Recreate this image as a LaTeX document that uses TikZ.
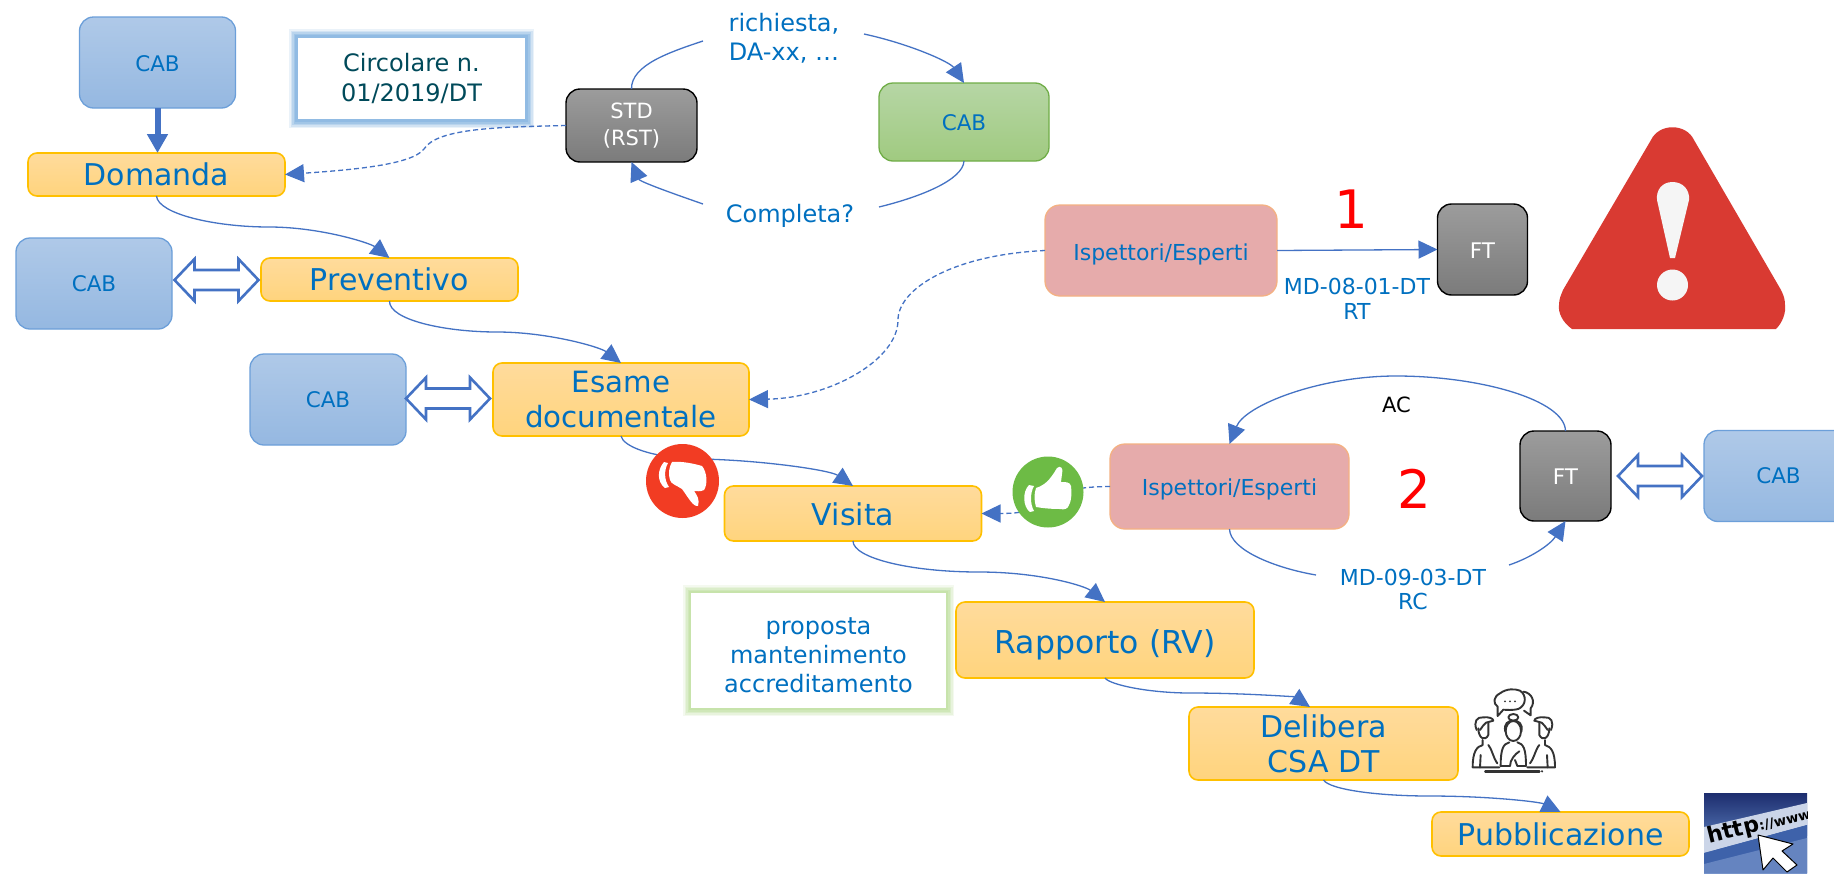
\documentclass[tikz,border=0pt]{standalone}
\usepackage{fontspec}
\setmainfont{DejaVu Sans}
\usetikzlibrary{arrows.meta,calc}
\definecolor{cblue}{HTML}{4472C4}
\definecolor{ctext}{HTML}{0070C0}
\definecolor{cteal}{HTML}{004A5A}
\newcommand{\fsz}[1]{\fontsize{#1}{#1}\selectfont}
\newcommand{\bl}[2]{\raisebox{-#1pt}[0pt][0pt]{#2}}
\tikzset{
  box/.style={rounded corners=12pt,line width=1.3pt,align=center,inner sep=0pt,outer sep=0pt,text=ctext},
  cabbox/.style={box,rounded corners=14pt,draw=cabline,top color=cabtop,bottom color=cabbot,font=\fsz{21.5},minimum width=156pt,minimum height=91pt},
  stepbox/.style={box,rounded corners=9pt,line width=1.6pt,draw=ora,top color=oratop,bottom color=orabot,font=\fsz{30}},
  greybox/.style={box,rounded corners=14pt,draw=black,line width=1.4pt,top color=gtop,bottom color=gbot,text=white,font=\fsz{21.5}},
  pinkbox/.style={box,rounded corners=15pt,draw=pinkline,fill=pinkfill,font=\fsz{22}},
  plain/.style={align=center,inner sep=0pt,outer sep=0pt,text=ctext,font=\fsz{22}},
  conn/.style={draw=cblue,line width=1.3pt,-{Triangle[length=19pt,width=18pt]}},
  link/.style={draw=cblue,line width=1.3pt},
  dashconn/.style={conn,dash pattern=on 5pt off 3pt},
  bigconn/.style={draw=cblue,line width=6pt,-{Triangle[length=19pt,width=20pt]}},
  dbl/.pic={\draw[draw=cblue,line width=2.6pt,fill=white,line join=miter]
     (-42,0)--(-22,-21)--(-22,-10)--(22,-10)--(22,-21)--(42,0)--(22,21)--(22,10)--(-22,10)--(-22,21)--cycle;},
}
\definecolor{cabtop}{HTML}{AFC9E8}
\definecolor{cabbot}{HTML}{95B8E1}
\definecolor{cabline}{HTML}{6C9FD9}
\definecolor{oratop}{HTML}{FFDB9C}
\definecolor{orabot}{HTML}{FFD47D}
\definecolor{ora}{HTML}{FFC000}
\definecolor{gtop}{HTML}{9C9C9C}
\definecolor{gbot}{HTML}{7B7B7B}
\definecolor{pinkfill}{HTML}{E6ABAB}
\definecolor{pinkline}{HTML}{F4B183}
\definecolor{greentop}{HTML}{B6D6A5}
\definecolor{greenbot}{HTML}{A0CA80}
\definecolor{greenline}{HTML}{70AD47}
\definecolor{glowb}{HTML}{8DB9E2}
\definecolor{glowg}{HTML}{C5E3A8}
\definecolor{warn}{HTML}{D93A32}
\definecolor{tdown}{HTML}{F23C23}
\definecolor{tup}{HTML}{6DBB45}
\definecolor{navy}{HTML}{1D2D6E}
\definecolor{midb}{HTML}{4F6FAE}
\definecolor{lowb}{HTML}{3E62AA}
\definecolor{bandw}{HTML}{CBD5E8}
\definecolor{bandl}{HTML}{7F9BCF}
\begin{document}
\begin{tikzpicture}[x=1pt,y=-1pt]
\useasboundingbox (0,0) rectangle (1834,873);
\clip (0,0) rectangle (1834,873);
\fill[white] (0,0) rectangle (1834,873);
\coordinate (r1) at (703,41);
\coordinate (r2) at (864,34);
\coordinate (c1) at (879,207);
\coordinate (c2) at (703,204);
\coordinate (m1) at (269,227);
\coordinate (m2) at (497,332);
\coordinate (m3) at (700,459);
\coordinate (m4) at (979,572);
\coordinate (m5) at (1190,693);
\coordinate (m6) at (1429,796);
\coordinate (d1) at (424,149);
\coordinate (d2) at (898,320);
\coordinate (a1) at (1396,376);
\coordinate (k1) at (1316,575);
\coordinate (k2) at (1509,565);

% nodes
\node[cabbox] (cab1) at (157.5,62.5) {\bl{8.5}{CAB}};
\foreach \w/\o in {18/.18,15/.25,12/.35,9/.5,6/.8}
  \draw[glowb,line width=\w pt,opacity=\o] (298,38) rectangle (525,119);
\node[plain,fill=white,minimum width=227pt,minimum height=81pt,text=cteal,font=\fsz{24}] (circ) at (411.5,78.5) {Circolare n.\\[6pt]01/2019/DT};
\node[greybox,minimum width=131pt,minimum height=73pt,font=\fsz{21}] (std) at (631.5,125.5) {STD\\[6pt](RST)};
\node[stepbox,minimum width=257pt,minimum height=43pt] (dom) at (156.5,174.5) {\bl{11}{Domanda}};
\node[stepbox,minimum width=257pt,minimum height=43pt] (prev) at (389.5,279.5) {\bl{11}{Preventivo}};
\node[cabbox] (cab2) at (94,283.5) {\bl{8.2}{CAB}};
\node[stepbox,minimum width=256pt,minimum height=73pt,font=\fsz{29.3}] (esame) at (621,399.5) {Esame\\[5pt]documentale};
\node[cabbox] (cab3) at (328,399.5) {\bl{7.8}{CAB}};
\node[box,rounded corners=14pt,draw=greenline,top color=greentop,bottom color=greenbot,font=\fsz{21.5},minimum width=170pt,minimum height=78pt] (green) at (964,122) {\bl{8.7}{CAB}};
\node[pinkbox,minimum width=232pt,minimum height=91pt] (isp1) at (1161,250.5) {\bl{9.5}{Ispettori/Esperti}};
\node[greybox,minimum width=90pt,minimum height=91pt] (ft1) at (1482.5,249.5) {\bl{8.5}{FT}};
\node[stepbox,minimum width=257pt,minimum height=55pt] (vis) at (853,513.5) {\bl{11.5}{Visita}};
\node[pinkbox,minimum width=239pt,minimum height=85pt] (isp2) at (1229.5,486.5) {\bl{8.5}{Ispettori/Esperti}};
\node[greybox,minimum width=91pt,minimum height=90pt] (ft2) at (1565.5,476) {\bl{8}{FT}};
\node[cabbox] (cab4) at (1782,476) {\hspace*{-7pt}\bl{7.5}{CAB}};
\foreach \w/\o in {16/.18,13/.25,10/.35,7/.5,4/.8}
  \draw[glowg,line width=\w pt,opacity=\o] (691,593) rectangle (946,708);
\node[plain,fill=white,minimum width=255pt,minimum height=115pt,font=\fsz{24}] (prop) at (818.5,650.5) {\rule{0pt}{26pt}proposta\\[5pt]mantenimento\\[5pt]accreditamento};
\node[stepbox,minimum width=298pt,minimum height=76pt,font=\fsz{31.5}] (rap) at (1105,640) {\bl{13}{Rapporto (RV)}};
\node[stepbox,minimum width=269pt,minimum height=73pt] (del) at (1323.5,743.5) {Delibera\\[5pt]CSA DT};
\node[stepbox,minimum width=257pt,minimum height=44pt] (pub) at (1560.5,834) {\bl{11}{Pubblicazione}};

% free texts
\node[plain,font=\fsz{24}] (rich) at (784,38) {richiesta,\\[5pt]DA-xx, \dots};
\node[plain,font=\fsz{24}] (comp) at (790,216) {Completa?};
\node[plain] (md1) at (1357,299) {MD-08-01-DT\\[3pt]RT};
\node[plain] (md2) at (1413,589) {MD-09-03-DT\\[2pt]RC};
\node[plain,text=black,font=\fsz{21}] (ac) at (1396.5,405) {AC};
\node[plain,text=red,font=\fsz{53}] (n1) at (1351,209) {1};
\node[plain,text=red,font=\fsz{53}] (n2) at (1414,489) {2};

% connectors
\draw[link] (std.north) .. controls (631,65) and (670,52) .. (r1);
\draw[conn] (r2) .. controls (910,44) and (950,62) .. (green.north);
\draw[link] (green.south) .. controls (963,180) and (920,197) .. (c1);
\draw[conn] (c2) .. controls (680,196) and (640,182) .. (std.south);
\draw[dashconn] (std.west) .. controls (500,127) and (437,128) .. (d1) .. controls (412,165) and (350,170) .. (dom.east);
\draw[bigconn] (cab1.south) -- (cab1.south |- dom.north);
\draw[conn] (dom.south) .. controls (158,214) and (215,227) .. (m1) .. controls (320,227) and (370,243) .. (prev.north);
\draw[conn] (prev.south) .. controls (389,320) and (445,332) .. (m2) .. controls (548,332) and (600,347) .. (esame.north);
\draw[dashconn] (isp1.west) .. controls (950,255) and (898,290) .. (d2) .. controls (898,360) and (830,398) .. (esame.east);
\draw[conn] (isp1.east) -- (ft1.west);
\draw[conn] (esame.south) .. controls (623,446) and (650,458) .. (m3) .. controls (760,460) and (830,470) .. (vis.north);
\draw[dashconn] (isp2.west) .. controls (1030,487) and (1062,513.5) .. (vis.east);
\draw[conn] (vis.south) .. controls (853,558) and (910,572) .. (m4) .. controls (1040,572) and (1085,586) .. (rap.north);
\draw[conn] (rap.south) .. controls (1110,685) and (1150,693) .. (m5) .. controls (1245,693) and (1295,697) .. ($(del.north)+(-13.5,0)$);
\draw[conn] (del.south) .. controls (1330,790) and (1380,796) .. (m6) .. controls (1490,796) and (1540,802) .. (pub.north);
\draw[conn] (ft2.north) .. controls (1565,400) and (1480,376) .. (a1) .. controls (1320,376) and (1245,405) .. (isp2.north);
\draw[link] (isp2.south) .. controls (1230,550) and (1275,568) .. (k1);
\draw[conn] (k2) .. controls (1530,558) and (1550,545) .. (ft2.south);

% block double arrows
\pic at (216.5,280) {dbl};
\pic at (448,398.5) {dbl};
\pic at (1660,476) {dbl};

% warning sign
\fill[warn] (1572,329) .. controls (1562,322) and (1558,312) .. (1559,305) .. controls (1559,299) and (1561,295) .. (1563,290)
  -- (1651,140) .. controls (1659,123) and (1686,123) .. (1694,140)
  -- (1781,290) .. controls (1784,296) and (1785,300) .. (1785,305) .. controls (1786,312) and (1783,322) .. (1776,329) -- cycle;
\fill[white!96!black] (1672.5,182) .. controls (1683,182) and (1690,190) .. (1689,200) -- (1675,258) -- (1670,258) -- (1657,200) .. controls (1656,190) and (1662,182) .. (1672.5,182) -- cycle;
\fill[white!96!black] (1672.5,285) ellipse (15.5pt and 15.5pt);

% thumb down
\fill[tdown] (682.5,481) ellipse (36.5pt and 37pt);
\fill[white] (664,462) .. controls (657,470) and (657,482) .. (665,488) -- (669,487) .. controls (664,480) and (664,470) .. (668,463) -- cycle;
\fill[white] (672,462) .. controls (683,461) and (695,464) .. (702,466) .. controls (707,472) and (708,484) .. (704,490)
  .. controls (700,492) and (696,491) .. (694,491) .. controls (697,495) and (700,500) .. (698,506) .. controls (693,507) and (688,497) .. (682,489)
  .. controls (676,485) and (671,484) .. (670,480) .. controls (668,474) and (669,467) .. (672,462) -- cycle;
% thumb up
\fill[tup] (1048,492) ellipse (35.5pt and 35.5pt);
\fill[white] (1029,485) .. controls (1022,492) and (1023,507) .. (1030,512) -- (1034,511) .. controls (1030,504) and (1030,493) .. (1034,486) -- cycle;
\fill[white] (1036,488) .. controls (1045,485) and (1050,480) .. (1057,468) .. controls (1060,465) and (1064,468) .. (1062,474)
  -- (1061,482) .. controls (1066,482) and (1070,482) .. (1071,486) .. controls (1072,495) and (1071,502) .. (1069,505)
  .. controls (1068,509) and (1064,510) .. (1060,509) .. controls (1050,509) and (1042,508) .. (1036,507) .. controls (1034,500) and (1034,494) .. (1036,488) -- cycle;

% people icon
\begin{scope}[shift={(1460,680)},x=.3333pt,y=-.3333pt,draw=black!80,line width=1.9pt,line join=round,line cap=round]
 \draw (120,40) .. controls (140,25) and (165,26) .. (180,32) .. controls (200,45) and (200,75) .. (175,87) .. controls (160,91) and (140,90) .. (130,89) -- (113,108) -- (113,80) .. controls (98,70) and (100,50) .. (120,40) -- cycle;
 \draw (190,35) .. controls (215,38) and (228,65) .. (212,85) -- (212,106) -- (192,92);
 \fill[black!80] (135,64) circle (3.2) (150,64) circle (3.2) (165,64) circle (3.2);
 % woman
 \draw (160,153) ellipse (23 and 30);
 \draw (136,155) .. controls (130,130) and (145,122) .. (160,122) .. controls (175,122) and (190,130) .. (184,155);
 \draw (160,112) ellipse (15 and 10);
 \draw (148,187) .. controls (130,192) and (122,205) .. (122,258);
 \draw (172,187) .. controls (190,192) and (198,205) .. (198,258);
 \draw (122,258) -- (150,258) .. controls (150,240) and (165,222) .. (178,214);
 \draw (198,258) -- (172,258) -- (165,240);
 % left man
 \draw (55,145) .. controls (55,175) and (75,185) .. (85,165) -- (85,128);
 \draw (50,150) .. controls (40,125) and (50,110) .. (70,112) .. controls (85,110) and (100,115) .. (100,122) -- (78,128) .. controls (72,135) and (65,140) .. (60,150);
 \draw (68,180) -- (68,195) .. controls (50,200) and (38,215) .. (38,262) -- (118,262);
 \draw (60,262) -- (62,225);
 \draw (85,195) .. controls (95,205) and (100,235) .. (112,250);
 % right man
 \draw (268,145) .. controls (268,175) and (248,185) .. (238,165) -- (238,128);
 \draw (273,150) .. controls (283,125) and (273,110) .. (253,112) .. controls (238,110) and (223,115) .. (223,122) -- (245,128) .. controls (251,135) and (258,140) .. (263,150);
 \draw (255,180) -- (255,195) .. controls (273,200) and (285,215) .. (285,262) -- (202,262);
 \draw (263,262) -- (261,225);
 \draw (238,195) .. controls (228,205) and (222,235) .. (210,250);
 \draw[line width=2.6pt] (76,274) -- (238,274);
 \fill[black!80] (246,274) circle (3.5);
\end{scope}

% browser picture
\begin{scope}
 \clip (1704,793) rectangle (1807,873);
 \shade[top color=lowb,bottom color=bandl] (1704,820) rectangle (1807,873);
 \shade[top color=navy,bottom color=midb] (1704,793) rectangle (1807,835);
 \fill[bandw] (1704,827) -- (1807,803) -- (1807,825) -- (1704,853) -- cycle;
 \fill[lowb] (1704,853) -- (1807,825) -- (1807,873) -- (1704,873) -- cycle;
 \fill[bandl,opacity=.6] (1704,864) -- (1807,838) -- (1807,873) -- (1704,873) -- cycle;
 \node[inner sep=0pt,rotate=14,text=black] (http) at (1759,825) {\bfseries{\fsz{22}http}{\fsz{13.5}://www}};
 \draw[black,line width=1pt,fill=white,line join=round] (1758,835) -- (1763,870) -- (1773,858) -- (1787,872) -- (1797,865) -- (1782,851) -- (1793,844) -- cycle;
\end{scope}
\end{tikzpicture}
\end{document}
